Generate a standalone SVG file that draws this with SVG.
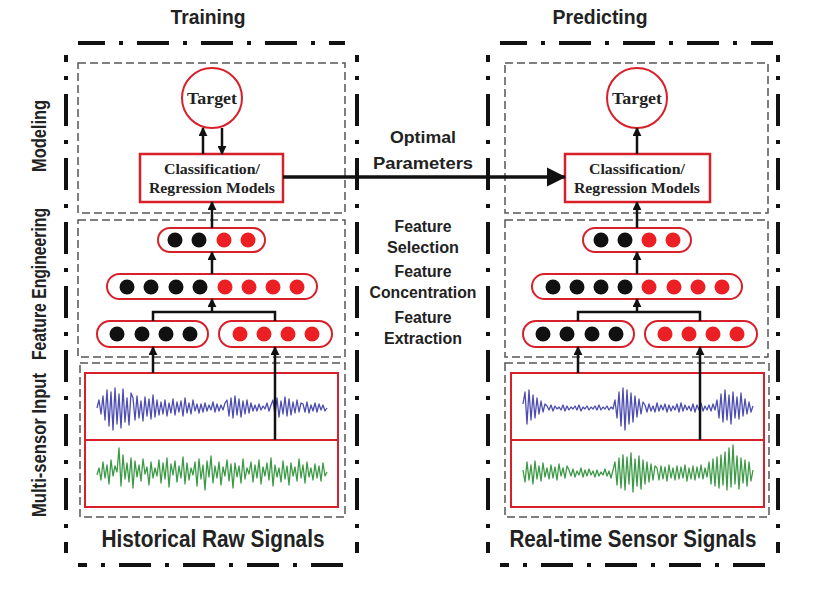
<svg xmlns="http://www.w3.org/2000/svg" width="820" height="594" viewBox="0 0 820 594">
<style>
.outer{fill:none;stroke:#111;stroke-width:4;stroke-dasharray:32 14 4 14}
.inner{fill:none;stroke:#555;stroke-width:1.5;stroke-dasharray:8 4}
.rbox{fill:#fff;stroke:#d7202a;stroke-width:2.5}
.sig{fill:#fff;stroke:#d7202a;stroke-width:2}
.pill{fill:#fff;stroke:#d7202a;stroke-width:2}
.k{fill:#111}
.r{fill:#ec2024}
.conn{fill:none;stroke:#111;stroke-width:2.5}
.serif{font-family:"Liberation Serif","Times New Roman",serif;font-weight:bold;fill:#222;text-anchor:middle}
.sans{font-family:"Liberation Sans Narrow","Liberation Sans",Arial,sans-serif;font-weight:bold;fill:#222;text-anchor:middle}
.blue{fill:none;stroke:#4d4db0;stroke-width:1.3;stroke-linejoin:round}
.green{fill:none;stroke:#3c9a46;stroke-width:1.3;stroke-linejoin:round}
</style>
<defs>
<marker id="ah" viewBox="0 0 10 10" refX="9" refY="5" markerWidth="9" markerHeight="9" markerUnits="userSpaceOnUse" orient="auto"><path d="M0,0 L10,5 L0,10 z" fill="#111"/></marker>
<marker id="big" viewBox="0 0 10 10" refX="9.5" refY="5" markerWidth="19" markerHeight="20" markerUnits="userSpaceOnUse" orient="auto"><path d="M0,0 L10,5 L0,10 z" fill="#111"/></marker>
</defs>
<rect width="820" height="594" fill="#fff"/>

<!-- Titles -->
<text class="sans" x="208" y="24" font-size="21" textLength="75" lengthAdjust="spacingAndGlyphs">Training</text>
<text class="sans" x="600" y="24" font-size="21" textLength="95" lengthAdjust="spacingAndGlyphs">Predicting</text>

<!-- Side labels -->
<g id="side-labels">
<text class="sans" font-size="20" transform="translate(46,136) rotate(-90)" textLength="72" lengthAdjust="spacingAndGlyphs">Modeling</text>
<text class="sans" font-size="20" transform="translate(46,284) rotate(-90)" textLength="152" lengthAdjust="spacingAndGlyphs">Feature Engineering</text>
<text class="sans" font-size="20" transform="translate(46,445) rotate(-90)" textLength="144" lengthAdjust="spacingAndGlyphs">Multi-sensor Input</text>
</g>

<!-- Outer panels -->
<g id="panel-training">
<line class="outer" x1="78" y1="43" x2="345" y2="43" stroke-dashoffset="5"/>
<line class="outer" x1="78" y1="565" x2="345" y2="565" stroke-dashoffset="23"/>
<line class="outer" x1="66" y1="55" x2="66" y2="553" stroke-dashoffset="25"/>
<line class="outer" x1="357" y1="55" x2="357" y2="553" stroke-dashoffset="25"/>
<rect class="inner" x="78" y="63" width="267" height="150"/>
<rect class="inner" x="78" y="220" width="267" height="137"/>
<rect class="inner" x="80" y="363" width="265" height="154"/>
</g>
<g id="panel-predicting">
<line class="outer" x1="500" y1="43" x2="773" y2="43" stroke-dashoffset="5"/>
<line class="outer" x1="500" y1="565" x2="773" y2="565" stroke-dashoffset="23"/>
<line class="outer" x1="488" y1="55" x2="488" y2="553" stroke-dashoffset="25"/>
<line class="outer" x1="778" y1="55" x2="778" y2="553" stroke-dashoffset="25"/>
<rect class="inner" x="505" y="63" width="263" height="150"/>
<rect class="inner" x="505" y="220" width="263" height="137"/>
<rect class="inner" x="505" y="363" width="264" height="154"/>
</g>

<!-- Middle labels -->
<g id="middle-labels">
<text class="sans" x="423" y="143" font-size="17" textLength="66" lengthAdjust="spacingAndGlyphs">Optimal</text>
<text class="sans" x="423" y="169" font-size="17" textLength="100" lengthAdjust="spacingAndGlyphs">Parameters</text>
<text class="sans" x="423" y="232" font-size="16" textLength="57" lengthAdjust="spacingAndGlyphs">Feature</text>
<text class="sans" x="423" y="253" font-size="16" textLength="72" lengthAdjust="spacingAndGlyphs">Selection</text>
<text class="sans" x="423" y="277" font-size="16" textLength="57" lengthAdjust="spacingAndGlyphs">Feature</text>
<text class="sans" x="423" y="298" font-size="16" textLength="107" lengthAdjust="spacingAndGlyphs">Concentration</text>
<text class="sans" x="423" y="323" font-size="16" textLength="57" lengthAdjust="spacingAndGlyphs">Feature</text>
<text class="sans" x="423" y="344" font-size="16" textLength="78" lengthAdjust="spacingAndGlyphs">Extraction</text>
</g>

<!-- Training nodes -->
<g id="t-target">
<circle cx="212" cy="98" r="30" fill="#fff" stroke="#d7202a" stroke-width="2"/>
<text class="serif" x="212" y="104" font-size="16" textLength="50" lengthAdjust="spacingAndGlyphs">Target</text>
</g>
<g id="t-model">
<rect class="rbox" x="140" y="154" width="143" height="48"/>
<text class="serif" x="212" y="174" font-size="15" textLength="96" lengthAdjust="spacingAndGlyphs">Classification/</text>
<text class="serif" x="212" y="193" font-size="15" textLength="126" lengthAdjust="spacingAndGlyphs">Regression Models</text>
</g>
<g id="t-selected">
<rect class="pill" x="158" y="228" width="107" height="24" rx="12"/>
<circle class="k" cx="175" cy="240" r="7.5"/><circle class="k" cx="199" cy="240" r="7.5"/>
<circle class="r" cx="224" cy="240" r="7.5"/><circle class="r" cx="248" cy="240" r="7.5"/>
</g>
<g id="t-concat">
<rect class="pill" x="107" y="274" width="210" height="25" rx="12.5"/>
<circle class="k" cx="127" cy="287" r="7.5"/><circle class="k" cx="151" cy="287" r="7.5"/>
<circle class="k" cx="176" cy="287" r="7.5"/><circle class="k" cx="200" cy="287" r="7.5"/>
<circle class="r" cx="225" cy="287" r="7.5"/><circle class="r" cx="249" cy="287" r="7.5"/>
<circle class="r" cx="273" cy="287" r="7.5"/><circle class="r" cx="297" cy="287" r="7.5"/>
</g>
<g id="t-feat-a">
<rect class="pill" x="97" y="321" width="111" height="26" rx="13"/>
<circle class="k" cx="117" cy="334" r="7.5"/><circle class="k" cx="142" cy="334" r="7.5"/>
<circle class="k" cx="166" cy="334" r="7.5"/><circle class="k" cx="190" cy="334" r="7.5"/>
</g>
<g id="t-feat-b">
<rect class="pill" x="219" y="321" width="113" height="26" rx="13"/>
<circle class="r" cx="240" cy="334" r="7.5"/><circle class="r" cx="264" cy="334" r="7.5"/>
<circle class="r" cx="288" cy="334" r="7.5"/><circle class="r" cx="312" cy="334" r="7.5"/>
</g>
<g id="t-signals">
<rect class="sig" x="85" y="373" width="253" height="134"/>
<line x1="85" y1="440" x2="338" y2="440" stroke="#d7202a" stroke-width="2"/>
<polyline class="blue" points="97,408 99,400 101,414 103,396 105,420 107,390 109,426 111,392 113,430 115,388 117,424 119,394 121,428 123,389 125,422 127,398 129,425 131,393 133,398 135,420 137,396 139,418 141,401 143,421 145,397 147,416 149,399 151,419 153,395 155,417 157,400 159,415 161,402 163,414 165,400 167,416 169,403 171,413 173,399 175,415 177,402 179,412 181,401 183,416 185,398 187,413 189,403 191,414 193,400 195,411 197,404 199,413 201,404 203,412 205,403 207,411 209,405 211,410 213,402 215,412 217,404 219,411 221,405 223,410 225,403 227,400 229,416 231,398 233,418 235,396 237,415 239,399 241,417 243,401 245,414 247,400 249,413 251,403 253,411 255,405 257,411 259,404 261,410 263,406 265,409 267,403 269,411 271,405 273,400 275,415 277,398 279,417 281,401 283,414 285,397 287,416 289,399 291,415 293,402 295,413 297,400 299,412 301,403 303,404 305,412 307,402 309,413 311,405 313,411 315,403 317,412 319,404 321,410 323,405 325,411 327,408"/>
<polyline class="green" points="97,475 99,468 101,480 103,462 105,478 107,465 109,484 111,460 113,476 115,466 117,472 119,448 121,486 123,455 125,479 127,463 129,482 131,458 133,488 135,461 137,477 139,465 141,481 143,459 145,474 147,467 149,485 151,462 153,478 155,468 157,476 159,460 161,483 163,463 165,479 167,458 169,487 171,464 173,475 175,461 177,482 179,466 181,478 183,457 185,484 187,463 189,480 191,468 193,475 195,462 197,486 199,459 201,479 203,465 205,490 207,461 209,477 211,456 213,483 215,466 217,478 219,462 221,485 223,467 225,476 227,460 229,481 231,464 233,488 235,463 237,477 239,466 241,483 243,459 245,479 247,468 249,474 251,462 253,482 255,465 257,478 259,460 261,484 263,467 265,476 267,463 269,480 271,458 273,486 275,465 277,477 279,468 281,482 283,461 285,479 287,466 289,485 291,463 293,476 295,467 297,481 299,459 301,478 303,465 305,483 307,462 309,477 311,468 313,480 315,464 317,478 319,466 321,481 323,463 325,476 327,472"/>
<text class="sans" x="213" y="547" font-size="23" textLength="223" lengthAdjust="spacingAndGlyphs">Historical Raw Signals</text>
</g>

<!-- Predicting nodes -->
<g id="p-target">
<circle cx="637" cy="98" r="30" fill="#fff" stroke="#d7202a" stroke-width="2"/>
<text class="serif" x="637" y="104" font-size="16" textLength="50" lengthAdjust="spacingAndGlyphs">Target</text>
</g>
<g id="p-model">
<rect class="rbox" x="565" y="154" width="145" height="48"/>
<text class="serif" x="637" y="174" font-size="15" textLength="96" lengthAdjust="spacingAndGlyphs">Classification/</text>
<text class="serif" x="637" y="193" font-size="15" textLength="126" lengthAdjust="spacingAndGlyphs">Regression Models</text>
</g>
<g id="p-selected">
<rect class="pill" x="583" y="228" width="108" height="24" rx="12"/>
<circle class="k" cx="601" cy="240" r="7.5"/><circle class="k" cx="625" cy="240" r="7.5"/>
<circle class="r" cx="649" cy="240" r="7.5"/><circle class="r" cx="673" cy="240" r="7.5"/>
</g>
<g id="p-concat">
<rect class="pill" x="532" y="274" width="210" height="25" rx="12.5"/>
<circle class="k" cx="553" cy="287" r="7.5"/><circle class="k" cx="577" cy="287" r="7.5"/>
<circle class="k" cx="601" cy="287" r="7.5"/><circle class="k" cx="625" cy="287" r="7.5"/>
<circle class="r" cx="649" cy="287" r="7.5"/><circle class="r" cx="674" cy="287" r="7.5"/>
<circle class="r" cx="698" cy="287" r="7.5"/><circle class="r" cx="722" cy="287" r="7.5"/>
</g>
<g id="p-feat-a">
<rect class="pill" x="523" y="321" width="111" height="26" rx="13"/>
<circle class="k" cx="543" cy="334" r="7.5"/><circle class="k" cx="567" cy="334" r="7.5"/>
<circle class="k" cx="592" cy="334" r="7.5"/><circle class="k" cx="616" cy="334" r="7.5"/>
</g>
<g id="p-feat-b">
<rect class="pill" x="645" y="321" width="112" height="26" rx="13"/>
<circle class="r" cx="665" cy="334" r="7.5"/><circle class="r" cx="689" cy="334" r="7.5"/>
<circle class="r" cx="713" cy="334" r="7.5"/><circle class="r" cx="737" cy="334" r="7.5"/>
</g>
<g id="p-signals">
<rect class="sig" x="511" y="373" width="253" height="134"/>
<line x1="511" y1="440" x2="764" y2="440" stroke="#d7202a" stroke-width="2"/>
<polyline class="blue" points="523,404 525,392 527,424 529,390 531,420 533,395 535,418 537,398 539,414 541,401 543,412 545,404 547,406 549,410 551,405 553,411 555,406 557,409 559,407 561,410 563,405 565,411 567,406 569,410 571,407 573,409 575,406 577,410 579,405 581,411 583,407 585,409 587,406 589,410 591,407 593,409 595,406 597,410 599,405 601,410 603,407 605,409 607,406 609,410 611,407 613,409 615,400 617,418 619,392 621,426 623,388 625,430 627,390 629,424 631,393 633,422 635,396 637,417 639,399 641,414 643,402 645,405 647,412 649,404 651,411 653,406 655,412 657,403 659,411 661,405 663,410 665,404 667,412 669,405 671,411 673,406 675,410 677,404 679,412 681,403 683,411 685,405 687,410 689,406 691,411 693,404 695,412 697,405 699,410 701,403 703,411 705,406 707,410 709,405 711,411 713,404 715,410 717,400 719,418 721,394 723,422 725,390 727,420 729,395 731,424 733,392 735,418 737,397 739,419 741,393 743,416 745,399 747,414 749,402 751,412 753,406"/>
<polyline class="green" points="523,470 525,482 527,462 529,480 531,465 533,484 535,461 537,479 539,466 541,481 543,463 545,477 547,468 549,479 551,465 553,478 555,467 557,480 559,464 561,476 563,468 565,478 567,466 569,470 571,476 573,469 575,477 577,471 579,475 581,468 583,477 585,470 587,476 589,469 591,475 593,471 595,477 597,470 599,476 601,472 603,475 605,469 607,476 609,471 611,478 613,470 615,462 617,485 619,458 621,488 623,455 625,490 627,457 629,484 631,453 633,492 635,459 637,486 639,456 641,489 643,460 645,484 647,462 649,482 651,464 653,480 655,466 657,468 659,480 661,466 663,479 665,467 667,481 669,465 671,478 673,468 675,480 677,466 679,479 681,467 683,478 685,465 687,481 689,468 691,479 693,466 695,480 697,467 699,478 701,465 703,479 705,468 707,477 709,462 711,484 713,459 715,486 717,457 719,488 721,455 723,485 725,452 727,490 729,448 731,487 733,445 735,484 737,456 739,489 741,458 743,483 745,460 747,486 749,462 751,481 753,470"/>
<text class="sans" x="633" y="547" font-size="23" textLength="247" lengthAdjust="spacingAndGlyphs">Real-time Sensor Signals</text>
</g>

<!-- Connectors -->
<g id="connectors">
<line class="conn" x1="203" y1="154" x2="203" y2="128" marker-end="url(#ah)"/>
<line class="conn" x1="222" y1="128" x2="222" y2="154" marker-end="url(#ah)"/>
<line class="conn" x1="212" y1="228" x2="212" y2="202" marker-end="url(#ah)"/>
<line class="conn" x1="212" y1="274" x2="212" y2="252" marker-end="url(#ah)"/>
<polyline class="conn" points="153,321 153,312 275,312 275,321"/>
<line class="conn" x1="212" y1="312" x2="212" y2="299" marker-end="url(#ah)"/>
<line class="conn" x1="153" y1="373" x2="153" y2="347" marker-end="url(#ah)"/>
<line class="conn" x1="275" y1="440" x2="275" y2="347" marker-end="url(#ah)"/>

<line x1="283" y1="177" x2="565" y2="177" stroke="#111" stroke-width="3.5" marker-end="url(#big)"/>

<line class="conn" x1="637" y1="154" x2="637" y2="128" marker-end="url(#ah)"/>
<line class="conn" x1="637" y1="228" x2="637" y2="202" marker-end="url(#ah)"/>
<line class="conn" x1="637" y1="274" x2="637" y2="252" marker-end="url(#ah)"/>
<polyline class="conn" points="578,321 578,312 700,312 700,321"/>
<line class="conn" x1="637" y1="312" x2="637" y2="299" marker-end="url(#ah)"/>
<line class="conn" x1="578" y1="373" x2="578" y2="347" marker-end="url(#ah)"/>
<line class="conn" x1="700" y1="440" x2="700" y2="347" marker-end="url(#ah)"/>
</g>
</svg>
